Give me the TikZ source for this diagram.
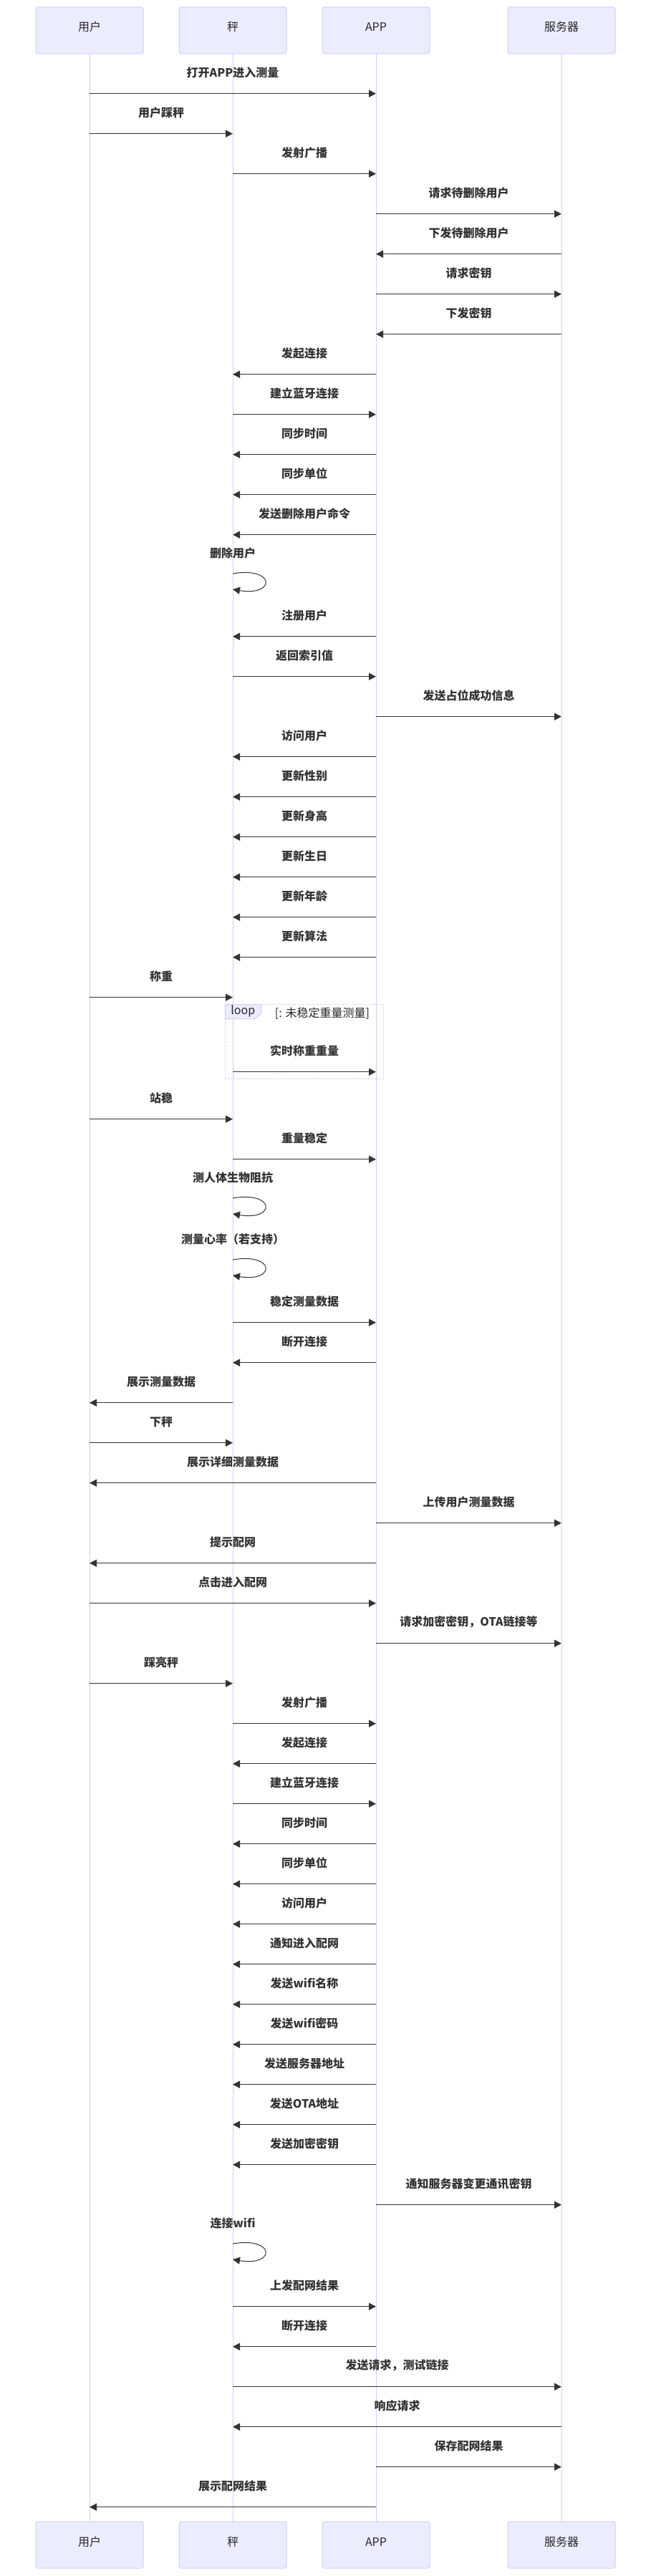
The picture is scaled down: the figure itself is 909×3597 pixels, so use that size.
\documentclass[tikz,border=0pt]{standalone}
\usepackage{fontspec}
\newfontfamily\cjk{Noto Sans CJK SC}
\usetikzlibrary{arrows.meta}
\definecolor{actfill}{HTML}{ECECFF}
\definecolor{actline}{HTML}{D5CCF2}
\definecolor{msgcol}{HTML}{333333}

\begin{document}
\begin{tikzpicture}[x=1pt,y=-1pt,
	actor/.style={draw=actline,fill=actfill,line width=1pt,rounded corners=3pt,
		minimum width=150pt,minimum height=65pt,inner sep=0pt,
		text height=14pt,text depth=11pt,text=black!85,
		font=\cjk\fontsize{16pt}{19pt}\selectfont},
	life/.style={draw=actline,line width=1pt},
	msg/.style={draw=msgcol,line width=1.5pt,-{Triangle[length=10pt,width=10pt]}},
	selfmsg/.style={msg,line width=1pt},
	lbl/.style={inner sep=0pt,yshift=29.5pt,text=msgcol,
		font=\cjk\bfseries\fontsize{16pt}{19pt}\selectfont},
	loopbox/.style={draw=actline,line width=1.2pt,dash pattern=on 2pt off 2pt},
	looptag/.style={draw=actline,fill=actfill,line width=1pt},
	looptxt/.style={inner sep=0pt,text=black!85,font=\cjk\fontsize{16pt}{19pt}\selectfont}]
	\useasboundingbox (0,0) rectangle (909,3597);
	%\draw[help lines] (0,0) grid (909,3597);
	\node[actor] (u) at (125,42.5) {用户};
	\node[actor] (s) at (325,42.5) {秤};
	\node[actor] (a) at (525,42.5) {APP};
	\node[actor] (v) at (784,42.5) {服务器};
	\node[actor] (ub) at (125,3553.5) {用户};
	\node[actor] (sb) at (325,3553.5) {秤};
	\node[actor] (ab) at (525,3553.5) {APP};
	\node[actor] (vb) at (784,3553.5) {服务器};
	\draw[life] (u)--(ub);
	\draw[life] (s)--(sb);
	\draw[life] (a)--(ab);
	\draw[life] (v)--(vb);

	% loop frame
	\coordinate (lp1) at (314.3,1402.7);
	\coordinate (lp2) at (535.7,1506.7);
	\draw[loopbox] (lp1) rectangle (lp2);
	\draw[looptag] (lp1) -- ++(50,0) -- ++(0,13) -- ++(-8.4,7) -- ++(-41.6,0) -- cycle;
	\node[looptxt] (lpl) at (339.3,1411.5) {loop};
	\node[looptxt] (lpc) at (450,1415) {[: 未稳定重量测量]};

	% binding and user sync
	\draw[msg] (u |- 0,130.7) -- node[lbl] (m1) {打开APP进入测量} (a |- 0,130.7);
	\draw[msg] (u |- 0,186.7) -- node[lbl] (m2) {用户踩秤} (s |- 0,186.7);
	\draw[msg] (s |- 0,242.7) -- node[lbl] (m3) {发射广播} (a |- 0,242.7);
	\draw[msg] (a |- 0,298.7) -- node[lbl] (m4) {请求待删除用户} (v |- 0,298.7);
	\draw[msg] (v |- 0,354.7) -- node[lbl] (m5) {下发待删除用户} (a |- 0,354.7);
	\draw[msg] (a |- 0,410.7) -- node[lbl] (m6) {请求密钥} (v |- 0,410.7);
	\draw[msg] (v |- 0,466.7) -- node[lbl] (m7) {下发密钥} (a |- 0,466.7);
	\draw[msg] (a |- 0,522.7) -- node[lbl] (m8) {发起连接} (s |- 0,522.7);
	\draw[msg] (s |- 0,578.7) -- node[lbl] (m9) {建立蓝牙连接} (a |- 0,578.7);
	\draw[msg] (a |- 0,634.7) -- node[lbl] (m10) {同步时间} (s |- 0,634.7);
	\draw[msg] (a |- 0,690.7) -- node[lbl] (m11) {同步单位} (s |- 0,690.7);
	\draw[msg] (a |- 0,746.7) -- node[lbl] (m12) {发送删除用户命令} (s |- 0,746.7);
	\draw[selfmsg] (s |- 0,801) node[lbl,yshift=-1pt] (m13) {删除用户}
		.. controls +(60,-10) and +(60,10) .. (s |- 0,823);
	\draw[msg] (a |- 0,888.7) -- node[lbl] (m14) {注册用户} (s |- 0,888.7);
	\draw[msg] (s |- 0,944.7) -- node[lbl] (m15) {返回索引值} (a |- 0,944.7);
	\draw[msg] (a |- 0,1000.7) -- node[lbl] (m16) {发送占位成功信息} (v |- 0,1000.7);
	\draw[msg] (a |- 0,1056.7) -- node[lbl] (m17) {访问用户} (s |- 0,1056.7);
	\draw[msg] (a |- 0,1112.7) -- node[lbl] (m18) {更新性别} (s |- 0,1112.7);
	\draw[msg] (a |- 0,1168.7) -- node[lbl] (m19) {更新身高} (s |- 0,1168.7);
	\draw[msg] (a |- 0,1224.7) -- node[lbl] (m20) {更新生日} (s |- 0,1224.7);
	\draw[msg] (a |- 0,1280.7) -- node[lbl] (m21) {更新年龄} (s |- 0,1280.7);
	\draw[msg] (a |- 0,1336.7) -- node[lbl] (m22) {更新算法} (s |- 0,1336.7);

	% weighing
	\draw[msg] (u |- 0,1392.7) -- node[lbl] (m23) {称重} (s |- 0,1392.7);
	\draw[msg] (s |- 0,1496.7) -- node[lbl] (m24) {实时称重重量} (a |- 0,1496.7);
	\draw[msg] (u |- 0,1562.7) -- node[lbl] (m25) {站稳} (s |- 0,1562.7);
	\draw[msg] (s |- 0,1618.7) -- node[lbl] (m26) {重量稳定} (a |- 0,1618.7);
	\draw[selfmsg] (s |- 0,1673) node[lbl,yshift=-1pt] (m27) {测人体生物阻抗}
		.. controls +(60,-10) and +(60,10) .. (s |- 0,1695);
	\draw[selfmsg] (s |- 0,1759) node[lbl,yshift=-1pt] (m28) {测量心率（若支持）}
		.. controls +(60,-10) and +(60,10) .. (s |- 0,1781);
	\draw[msg] (s |- 0,1846.7) -- node[lbl] (m29) {稳定测量数据} (a |- 0,1846.7);
	\draw[msg] (a |- 0,1902.7) -- node[lbl] (m30) {断开连接} (s |- 0,1902.7);
	\draw[msg] (s |- 0,1958.7) -- node[lbl] (m31) {展示测量数据} (u |- 0,1958.7);
	\draw[msg] (u |- 0,2014.7) -- node[lbl] (m32) {下秤} (s |- 0,2014.7);
	\draw[msg] (a |- 0,2070.7) -- node[lbl] (m33) {展示详细测量数据} (u |- 0,2070.7);
	\draw[msg] (a |- 0,2126.7) -- node[lbl] (m34) {上传用户测量数据} (v |- 0,2126.7);

	% network setup
	\draw[msg] (a |- 0,2182.7) -- node[lbl] (m35) {提示配网} (u |- 0,2182.7);
	\draw[msg] (u |- 0,2238.7) -- node[lbl] (m36) {点击进入配网} (a |- 0,2238.7);
	\draw[msg] (a |- 0,2294.7) -- node[lbl] (m37) {请求加密密钥，OTA链接等} (v |- 0,2294.7);
	\draw[msg] (u |- 0,2350.7) -- node[lbl] (m38) {踩亮秤} (s |- 0,2350.7);
	\draw[msg] (s |- 0,2406.7) -- node[lbl] (m39) {发射广播} (a |- 0,2406.7);
	\draw[msg] (a |- 0,2462.7) -- node[lbl] (m40) {发起连接} (s |- 0,2462.7);
	\draw[msg] (s |- 0,2518.7) -- node[lbl] (m41) {建立蓝牙连接} (a |- 0,2518.7);
	\draw[msg] (a |- 0,2574.7) -- node[lbl] (m42) {同步时间} (s |- 0,2574.7);
	\draw[msg] (a |- 0,2630.7) -- node[lbl] (m43) {同步单位} (s |- 0,2630.7);
	\draw[msg] (a |- 0,2686.7) -- node[lbl] (m44) {访问用户} (s |- 0,2686.7);
	\draw[msg] (a |- 0,2742.7) -- node[lbl] (m45) {通知进入配网} (s |- 0,2742.7);
	\draw[msg] (a |- 0,2798.7) -- node[lbl] (m46) {发送wifi名称} (s |- 0,2798.7);
	\draw[msg] (a |- 0,2854.7) -- node[lbl] (m47) {发送wifi密码} (s |- 0,2854.7);
	\draw[msg] (a |- 0,2910.7) -- node[lbl] (m48) {发送服务器地址} (s |- 0,2910.7);
	\draw[msg] (a |- 0,2966.7) -- node[lbl] (m49) {发送OTA地址} (s |- 0,2966.7);
	\draw[msg] (a |- 0,3022.7) -- node[lbl] (m50) {发送加密密钥} (s |- 0,3022.7);
	\draw[msg] (a |- 0,3078.7) -- node[lbl] (m51) {通知服务器变更通讯密钥} (v |- 0,3078.7);
	\draw[selfmsg] (s |- 0,3133) node[lbl,yshift=-1pt] (m52) {连接wifi}
		.. controls +(60,-10) and +(60,10) .. (s |- 0,3155);
	\draw[msg] (s |- 0,3220.7) -- node[lbl] (m53) {上发配网结果} (a |- 0,3220.7);
	\draw[msg] (a |- 0,3276.7) -- node[lbl] (m54) {断开连接} (s |- 0,3276.7);
	\draw[msg] (s |- 0,3332.7) -- node[lbl] (m55) {发送请求，测试链接} (v |- 0,3332.7);
	\draw[msg] (v |- 0,3388.7) -- node[lbl] (m56) {响应请求} (s |- 0,3388.7);
	\draw[msg] (a |- 0,3444.7) -- node[lbl] (m57) {保存配网结果} (v |- 0,3444.7);
	\draw[msg] (a |- 0,3500.7) -- node[lbl] (m58) {展示配网结果} (u |- 0,3500.7);
\end{tikzpicture}
\end{document}
